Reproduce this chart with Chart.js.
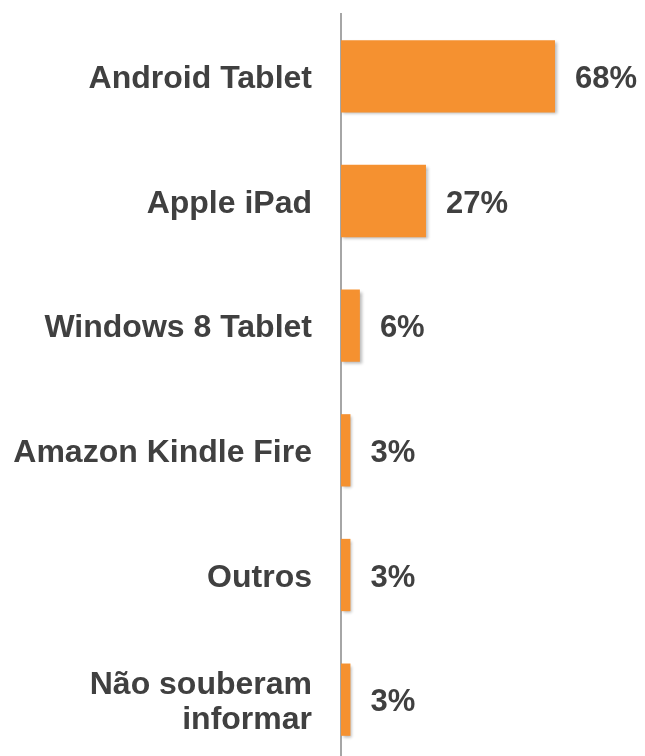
<!DOCTYPE html>
<html>
<head>
<meta charset="utf-8">
<script src="https://cdn.jsdelivr.net/npm/chart.js@4"></script>
<style>
  html, body { margin: 0; padding: 0; overflow: hidden; background: #fff; }
  #wrap { position: relative; width: 645px; height: 762px; }
</style>
</head>
<body>
<div id="wrap"><canvas id="tabletChart"></canvas></div>
<script>
const categories = [
  'Android Tablet',
  'Apple iPad',
  'Windows 8 Tablet',
  'Amazon Kindle Fire',
  'Outros',
  ['Não souberam', 'informar']
];
const shares = [68, 27, 6, 3, 3, 3];

const textColor = '#404040';
const barColor = '#F59130';
const fontFamily = '"Liberation Sans", Arial, sans-serif';

// draws a soft shadow under the bars and the % label after each bar
const barExtras = {
  id: 'barExtras',
  beforeDatasetDraw(chart) {
    const ctx = chart.ctx;
    ctx.save();
    ctx.shadowColor = 'rgba(0,0,0,0.28)';
    ctx.shadowBlur = 3;
    ctx.shadowOffsetX = 2;
    ctx.shadowOffsetY = 2;
  },
  afterDatasetDraw(chart) {
    chart.ctx.restore();
  },
  afterDatasetsDraw(chart) {
    const ctx = chart.ctx;
    const meta = chart.getDatasetMeta(0);
    ctx.save();
    ctx.font = 'bold 31px ' + fontFamily;
    ctx.fillStyle = textColor;
    ctx.textAlign = 'left';
    ctx.textBaseline = 'middle';
    meta.data.forEach((bar, i) => {
      ctx.fillText(shares[i] + '%', bar.x + 20, bar.y + 3);
    });
    ctx.restore();
  }
};

const ctx = document.getElementById('tabletChart').getContext('2d');
new Chart(ctx, {
  type: 'bar',
  data: {
    labels: categories,
    datasets: [{
      data: shares,
      backgroundColor: barColor,
      borderWidth: 0,
      categoryPercentage: 0.58,
      barPercentage: 1
    }]
  },
  options: {
    indexAxis: 'y',
    responsive: true,
    maintainAspectRatio: false,
    animation: false,
    layout: { padding: { top: 14, right: 0, bottom: 0, left: 0 } },
    scales: {
      x: {
        display: false,
        min: 0,
        max: 96.6
      },
      y: {
        afterFit(scale) {
          scale.width = 341;
          scale.paddingTop = 0;
          scale.paddingBottom = 0;
        },
        grid: { display: false, drawTicks: false },
        border: { display: true, color: '#A6A6A6', width: 2 },
        ticks: {
          color: textColor,
          padding: 29,
          labelOffset: 3,
          font: { family: fontFamily, size: 32, weight: 'bold', lineHeight: 1.12 }
        }
      }
    },
    plugins: {
      legend: { display: false },
      tooltip: { enabled: false }
    }
  },
  plugins: [barExtras]
});
</script>
</body>
</html>
